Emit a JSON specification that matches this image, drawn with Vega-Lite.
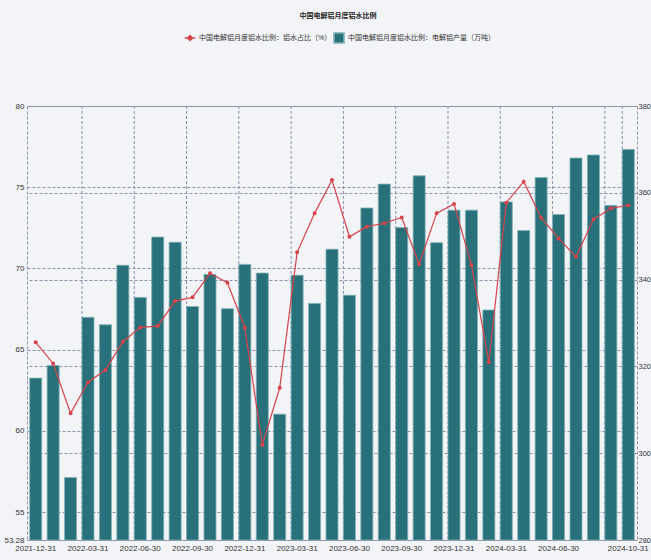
{
  "$schema": "https://vega.github.io/schema/vega-lite/v6.json",
  "autosize": "none",
  "width": 610,
  "height": 434,
  "padding": {"left": 27, "top": 106, "right": 14, "bottom": 20},
  "background": "#f3f4f7",
  "title": {
    "text": "中国电解铝月度铝水比例",
    "fontSize": 7,
    "fontWeight": "bold",
    "color": "#222222",
    "anchor": "middle",
    "offset": 13,
    "dx": 6
  },
  "data": {
    "values": [
      {"date": "2021-12-31", "ratio": 65.45, "output": 317.3},
      {"date": "2022-01-31", "ratio": 64.15, "output": 320.2},
      {"date": "2022-02-28", "ratio": 61.08, "output": 294.4},
      {"date": "2022-03-31", "ratio": 62.99, "output": 331.3},
      {"date": "2022-04-30", "ratio": 63.74, "output": 329.6},
      {"date": "2022-05-31", "ratio": 65.49, "output": 343.3},
      {"date": "2022-06-30", "ratio": 66.37, "output": 335.9},
      {"date": "2022-07-31", "ratio": 66.45, "output": 349.8},
      {"date": "2022-08-31", "ratio": 67.99, "output": 348.6},
      {"date": "2022-09-30", "ratio": 68.22, "output": 333.8},
      {"date": "2022-10-31", "ratio": 69.7, "output": 341.2},
      {"date": "2022-11-30", "ratio": 69.12, "output": 333.3},
      {"date": "2022-12-31", "ratio": 66.35, "output": 343.5},
      {"date": "2023-01-31", "ratio": 59.13, "output": 341.5},
      {"date": "2023-02-28", "ratio": 62.65, "output": 309.0},
      {"date": "2023-03-31", "ratio": 70.99, "output": 341.0},
      {"date": "2023-04-30", "ratio": 73.39, "output": 334.5},
      {"date": "2023-05-31", "ratio": 75.44, "output": 347.0},
      {"date": "2023-06-30", "ratio": 71.95, "output": 336.4},
      {"date": "2023-07-31", "ratio": 72.57, "output": 356.5},
      {"date": "2023-08-31", "ratio": 72.78, "output": 362.0},
      {"date": "2023-09-30", "ratio": 73.14, "output": 352.0},
      {"date": "2023-10-31", "ratio": 70.25, "output": 363.9},
      {"date": "2023-11-30", "ratio": 73.39, "output": 348.5},
      {"date": "2023-12-31", "ratio": 73.97, "output": 356.0},
      {"date": "2024-01-31", "ratio": 70.21, "output": 356.0},
      {"date": "2024-02-29", "ratio": 64.22, "output": 333.0},
      {"date": "2024-03-31", "ratio": 74.05, "output": 357.9},
      {"date": "2024-04-30", "ratio": 75.34, "output": 351.3},
      {"date": "2024-05-31", "ratio": 73.12, "output": 363.5},
      {"date": "2024-06-30", "ratio": 71.85, "output": 355.0},
      {"date": "2024-07-31", "ratio": 70.72, "output": 368.0},
      {"date": "2024-08-31", "ratio": 73.02, "output": 368.7},
      {"date": "2024-09-30", "ratio": 73.7, "output": 357.1},
      {"date": "2024-10-31", "ratio": 73.89, "output": 370.0}
    ]
  },
  "encoding": {
    "x": {
      "field": "date",
      "type": "ordinal",
      "sort": "ascending",
      "title": null,
      "scale": {"paddingInner": 0.31, "paddingOuter": 0.155},
      "axis": {
        "values": ["2021-12-31", "2022-03-31", "2022-06-30", "2022-09-30", "2022-12-31", "2023-03-31", "2023-06-30", "2023-09-30", "2023-12-31", "2024-03-31", "2024-06-30", "2024-10-31"],
        "labelAngle": 0,
        "labelFontSize": 8,
        "labelColor": "#333333",
        "labelPadding": 4,
        "labelOverlap": false,
        "labelBound": false,
        "ticks": false,
        "domain": false,
        "grid": false
      }
    }
  },
  "layer": [
    {
      "transform": [
        {"filter": {"field": "date", "oneOf": ["2022-03-31", "2022-06-30", "2022-09-30", "2022-12-31", "2023-03-31", "2023-06-30", "2023-09-30", "2023-12-31", "2024-03-31", "2024-06-30", "2024-09-30", "2024-10-31"]}}
      ],
      "mark": {"type": "rule", "color": "#8c90aa", "strokeWidth": 1, "strokeDash": [3, 2]},
      "encoding": {
        "x": {"field": "date", "type": "ordinal", "sort": "ascending", "bandPosition": 0}
      }
    },
    {
      "mark": {"type": "bar", "stroke": "#7fb0b4", "strokeWidth": 0.8},
      "encoding": {
        "y": {
          "field": "output",
          "type": "quantitative",
          "title": null,
          "scale": {"domain": [280, 380], "zero": false, "nice": false},
          "axis": {
            "orient": "right",
            "values": [280, 300, 320, 340, 360, 380],
            "labelFontSize": 7.5,
            "labelColor": "#333333",
            "labelPadding": 1,
            "ticks": false,
            "domain": false,
            "grid": true,
            "gridColor": "#8c90aa",
            "gridDash": [3, 2],
            "gridWidth": 1
          }
        },
        "y2": {"datum": 280},
        "fill": {
          "datum": "中国电解铝月度铝水比例：电解铝产量（万吨）",
          "scale": {"domain": ["中国电解铝月度铝水比例：电解铝产量（万吨）"], "range": ["#28717a"]},
          "legend": {
            "orient": "none",
            "legendX": 306,
            "legendY": -74,
            "symbolType": "square",
            "symbolSize": 100,
            "labelFontSize": 7,
            "labelColor": "#333333",
            "labelOffset": 3,
            "padding": 0,
            "title": null
          }
        }
      }
    },
    {
      "mark": {"type": "line", "strokeWidth": 1.2, "color": "#d8424a", "point": {"filled": true, "size": 4, "fill": "#d8424a"}},
      "encoding": {
        "y": {
          "field": "ratio",
          "type": "quantitative",
          "title": null,
          "scale": {"domain": [53.28, 80], "zero": false, "nice": false},
          "axis": {
            "orient": "left",
            "values": [53.28, 55, 60, 65, 70, 75, 80],
            "format": ".4~g",
            "labelFontSize": 8,
            "labelColor": "#333333",
            "labelPadding": 3,
            "ticks": false,
            "domain": false,
            "grid": true,
            "gridColor": "#8c90aa",
            "gridDash": [3, 2],
            "gridWidth": 1
          }
        },
        "stroke": {
          "datum": "中国电解铝月度铝水比例：铝水占比（%）",
          "scale": {"domain": ["中国电解铝月度铝水比例：铝水占比（%）"], "range": ["#d8424a"]},
          "legend": {
            "orient": "none",
            "legendX": 157,
            "legendY": -74,
            "symbolType": "M-1,0L1,0M0,-0.45L0.45,0L0,0.45L-0.45,0Z",
            "symbolSize": 110,
            "symbolFillColor": "#d8424a",
            "symbolStrokeWidth": 1.5,
            "labelFontSize": 7,
            "labelColor": "#333333",
            "labelOffset": 3,
            "padding": 0,
            "title": null
          }
        }
      }
    }
  ],
  "resolve": {"scale": {"y": "independent"}},
  "config": {
    "font": "Liberation Sans, Noto Sans CJK SC",
    "view": {"stroke": "#8c90aa", "strokeDash": [3, 2], "strokeWidth": 1},
    "axis": {"labelFont": "Liberation Sans, Noto Sans CJK SC"},
    "legend": {"labelFont": "Liberation Sans, Noto Sans CJK SC", "labelLimit": 300}
  }
}
